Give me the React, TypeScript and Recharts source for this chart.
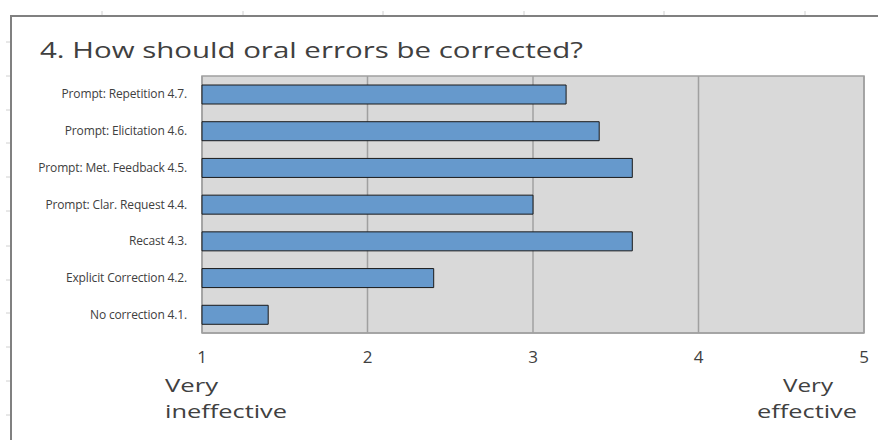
import { BarChart, Bar, XAxis, YAxis, CartesianGrid, ReferenceArea } from 'recharts'

const categories = [
  'Prompt: Repetition 4.7.',
  'Prompt: Elicitation 4.6.',
  'Prompt: Met. Feedback 4.5.',
  'Prompt: Clar. Request 4.4.',
  'Recast 4.3.',
  'Explicit Correction 4.2.',
  'No correction 4.1.',
]
const scores = [3.2, 3.4, 3.6, 3.0, 3.6, 2.4, 1.4]
const xTicks = [1, 2, 3, 4, 5]
const title = '4. How should oral errors be corrected?'

const data = categories.map((name, i) => ({ name, score: scores[i] }))

// faint sheet-gridline stubs around the frame
const topStubs = [102, 243, 383, 524, 664, 805]
const leftStubs = [42, 76, 110, 143, 177, 211, 246, 280, 313, 347, 381, 415]

const FONT = '"Open Sans", sans-serif'
const TEXT = '#404040'

function YTick({ x, y, payload }: any) {
  return (
    <text x={x - 7} y={y} dy={4} textAnchor="end" fontSize={12} fill={TEXT}
      fontFamily={FONT} letterSpacing={-0.15}>
      {payload.value}
    </text>
  )
}

function XTick({ x, y, payload }: any) {
  const v = payload.value
  const t = { fontSize: 18.5, fill: TEXT, fontFamily: FONT, lengthAdjust: 'spacingAndGlyphs' as const }
  return (
    <g>
      <text x={x} y={y + 22} textAnchor="middle" fontSize={17} fill={TEXT} fontFamily={FONT}>{v}</text>
      {v === 1 && (
        <g>
          <text x={x - 37} y={y + 51} textLength={53} {...t}>Very</text>
          <text x={x - 37} y={y + 77} textLength={122} {...t}>ineffective</text>
        </g>
      )}
      {v === 5 && (
        <g>
          <text x={x - 81} y={y + 51} textLength={50} {...t}>Very</text>
          <text x={x - 107} y={y + 77} textLength={100} {...t}>effective</text>
        </g>
      )}
    </g>
  )
}

export default function App() {
  return (
    <div style={{ position: 'absolute', left: 0, top: 0, width: 878, height: 440, background: '#fff', overflow: 'hidden' }}>
      <div style={{ position: 'absolute', left: 10, top: 15, width: 900, height: 460,
        borderTop: '2px solid #808080', borderLeft: '2px solid #808080' }} />
      <svg width={878} height={440} style={{ position: 'absolute', left: 0, top: 0 }}>
        {topStubs.map(x => <line key={x} x1={x} x2={x} y1={11} y2={15} stroke="#d0d0d0" />)}
        {leftStubs.map(y => <line key={y} x1={6} x2={10} y1={y} y2={y} stroke="#d0d0d0" />)}
        <text x={40} y={58} fontSize={22} fill={TEXT} fontFamily={FONT}
          textLength={543} lengthAdjust="spacingAndGlyphs">{title}</text>
      </svg>
      <div style={{ position: 'absolute', left: 0, top: 0 }}>
        <BarChart width={878} height={440} data={data} layout="vertical"
          margin={{ top: 76, right: 14, bottom: 7, left: 0 }} barSize={19}>
          <CartesianGrid horizontal={false} fill="#d9d9d9" stroke="#a0a0a0" strokeWidth={1.5} />
          <XAxis type="number" domain={[1, 5]} ticks={xTicks} height={100}
            tickLine={false} axisLine={{ stroke: '#a0a0a0', strokeWidth: 1.5 }} tick={<XTick />} interval={0} />
          <YAxis type="category" dataKey="name" width={202} tickLine={false} axisLine={false}
            tick={<YTick />} interval={0} />
          <ReferenceArea x1={1} x2={5} fill="none" stroke="#a0a0a0" strokeWidth={1.5} ifOverflow="visible" />
          <Bar dataKey="score" fill="#6699cc" stroke="#1a1a1a" strokeWidth={1} isAnimationActive={false} />
        </BarChart>
      </div>
    </div>
  )
}
